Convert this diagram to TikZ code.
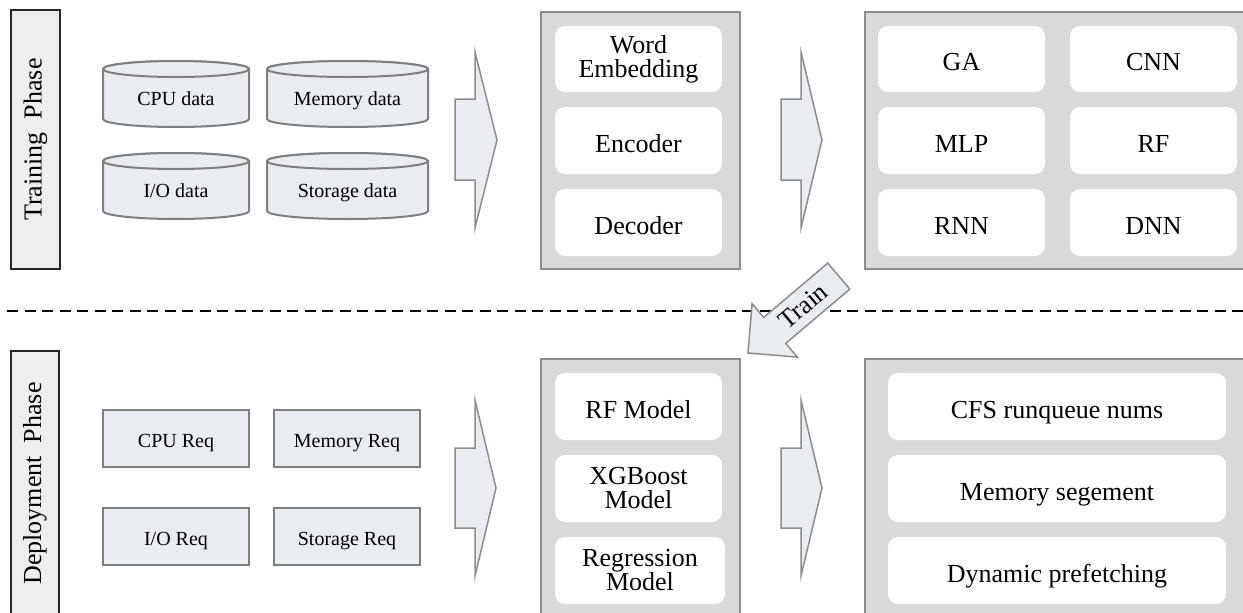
\documentclass[tikz,border=0pt]{standalone}
\usepackage{fontspec}
\setmainfont{Liberation Serif}
\definecolor{panelfill}{HTML}{D9D9D9}
\definecolor{paneldraw}{HTML}{8C8C8C}
\definecolor{lightfill}{HTML}{E9ECF1}
\definecolor{darkgray}{HTML}{7F7F7F}
\definecolor{phasefill}{HTML}{EEEEEE}
\definecolor{phasedraw}{HTML}{262626}
\newcommand\mycyl[4]{%
  \pgfmathsetmacro\cx{(#1+#2)/2}%
  \pgfmathsetmacro\rx{(#2-#1)/2}%
  \path[cylst] (#1,#3+8) -- (#1,#4-8) arc[start angle=180,end angle=0,x radius=\rx,y radius=8]
     -- (#2,#3+8) arc[start angle=360,end angle=180,x radius=\rx,y radius=8] -- cycle;
  \path[cylst] (\cx,#3+8) ellipse[x radius=\rx,y radius=8];}
\begin{document}
\begin{tikzpicture}[x=1pt,y=-1pt,
  bigfont/.style={font=\fontsize{26}{24}\selectfont},
  smallfont/.style={font=\fontsize{20}{22}\selectfont},
  phasebox/.style={draw=phasedraw,fill=phasefill,line width=1.5pt,rotate=90,inner sep=0pt,bigfont},
  panel/.style={draw=paneldraw,fill=panelfill,line width=1.5pt,inner sep=0pt},
  item/.style={fill=white,rounded corners=10pt,inner sep=0pt,align=center,bigfont},
  oneline/.style={text height=23pt,text depth=0pt},
  cylst/.style={draw=darkgray,fill=lightfill,line width=2pt},
  cyltext/.style={inner sep=0pt,anchor=base,smallfont},
  reqbox/.style={draw=darkgray,fill=lightfill,line width=2pt,inner sep=0pt,minimum width=146pt,minimum height=57pt,text height=17pt,text depth=0pt,smallfont},
  bigarrow/.style={draw=paneldraw,fill=lightfill,line width=1.5pt,line join=miter},
  sep/.style={draw=black,line width=2.5pt,dash pattern=on 11pt off 6.5pt}]
\useasboundingbox (0,0) rectangle (1243,613);

% phase labels
\node[phasebox,minimum width=259pt,minimum height=49pt] (train) at (35.5,139.5) {Training\ \ Phase};
\node[phasebox,minimum width=265pt,minimum height=48pt] (deploy) at (35,483.5) {Deployment\ \ Phase};

% separator
\coordinate (dl) at (7,311);
\coordinate (dr) at (1243,311);
\draw[sep] (dl) -- (dr);

% training data cylinders
\mycyl{103}{249}{61}{127}
\mycyl{267}{428}{61}{127}
\mycyl{103}{249}{153}{219}
\mycyl{267}{428}{153}{219}
\node[cyltext] (cpud) at (176,105) {CPU data};
\node[cyltext] (memd) at (347.5,105) {Memory data};
\node[cyltext] (iod) at (176,197) {I/O data};
\node[cyltext] (stod) at (347.5,197) {Storage data};

% request boxes
\node[reqbox] (cpur) at (176,438.5) {CPU Req};
\node[reqbox] (memr) at (347,438.5) {Memory Req};
\node[reqbox] (ior) at (176,536.5) {I/O Req};
\node[reqbox] (stor) at (347,536.5) {Storage Req};

% panels
\node[panel,minimum width=199pt,minimum height=257pt] (pmt) at (640.5,140.5) {};
\node[panel,minimum width=385pt,minimum height=257pt] (prt) at (1057.5,140.5) {};
\node[panel,minimum width=199pt,minimum height=261pt] (pmb) at (640.5,489.5) {};
\node[panel,minimum width=385pt,minimum height=261pt] (prb) at (1057.5,489.5) {};

% middle top items
\node[item,minimum width=167pt,minimum height=66pt] (we) at (638.5,59) {Word\\Embedding};
\node[item,oneline,minimum width=167pt,minimum height=67pt] (enc) at (638.5,140.5) {Encoder};
\node[item,oneline,minimum width=167pt,minimum height=67pt] (dec) at (638.5,222.5) {Decoder};

% right top items
\node[item,oneline,minimum width=167pt,minimum height=66pt] (ga) at (961.5,59) {GA};
\node[item,oneline,minimum width=167pt,minimum height=66pt] (cnn) at (1153.5,59) {CNN};
\node[item,oneline,minimum width=167pt,minimum height=67pt] (mlp) at (961.5,140.5) {MLP};
\node[item,oneline,minimum width=167pt,minimum height=67pt] (rf) at (1153.5,140.5) {RF};
\node[item,oneline,minimum width=167pt,minimum height=67pt] (rnn) at (961.5,222.5) {RNN};
\node[item,oneline,minimum width=167pt,minimum height=67pt] (dnn) at (1153.5,222.5) {DNN};

% middle bottom items
\node[item,oneline,minimum width=167pt,minimum height=67pt] (rfm) at (638.5,406.5) {RF Model};
\node[item,minimum width=167pt,minimum height=67pt] (xgb) at (638.5,488.5) {XGBoost\\Model};
\node[item,minimum width=170pt,minimum height=67pt] (reg) at (640,570.5) {Regression\\Model};

% right bottom items
\node[item,oneline,minimum width=338pt,minimum height=67pt] (cfs) at (1057,406.5) {CFS runqueue nums};
\node[item,oneline,minimum width=338pt,minimum height=67pt] (mseg) at (1057,488.5) {Memory segement};
\node[item,oneline,minimum width=338pt,minimum height=67pt] (dyn) at (1057,570.5) {Dynamic prefetching};

% big block arrows
\draw[bigarrow] (455,99) -- (475,99) -- (475,52) -- (497,140) -- (475,228) -- (475,180) -- (455,180) -- cycle;
\draw[bigarrow] (781,99) -- (801,99) -- (801,52) -- (822,140) -- (801,228) -- (801,180) -- (781,180) -- cycle;
\draw[bigarrow] (455,448) -- (475,448) -- (475,400) -- (496,488) -- (475,576) -- (475,528) -- (455,528) -- cycle;
\draw[bigarrow] (781,448) -- (801,448) -- (801,400) -- (822,488) -- (801,576) -- (801,528) -- (781,528) -- cycle;

% train arrow
\draw[bigarrow] (748,353) -- (752.1,303.7) -- (763.7,317.4) -- (827.8,263.1) -- (849.8,289.1) -- (785.7,343.4) -- (797.3,357.1) -- cycle;
\node[bigfont,rotate=40,inner sep=0pt] (trainlbl) at (803,306) {Train};
\end{tikzpicture}
\end{document}
